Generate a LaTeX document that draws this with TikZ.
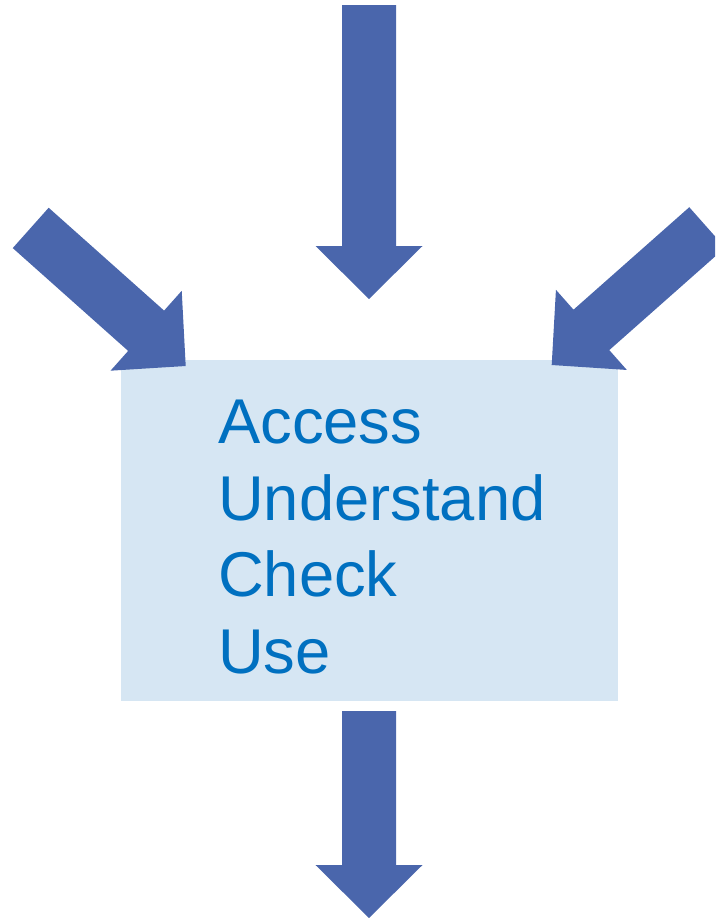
\documentclass[tikz,border=0pt]{standalone}
\usepackage{fontspec}
\setmainfont{Liberation Sans}
\definecolor{arrowblue}{HTML}{4A66AC}
\definecolor{boxblue}{HTML}{D6E6F3}
\definecolor{textblue}{HTML}{0070C0}
% Block arrow: tip coordinate, direction angle, total length
\newcommand{\blockarrow}[3]{%
  \begin{scope}[shift={#1}, rotate=#2]
    \fill[arrowblue] (0,0) -- (-53,53.5) -- (-53,27) -- (-#3,27) -- (-#3,-27)
      -- (-53,-27) -- (-53,-53.5) -- cycle;
  \end{scope}}
\begin{document}
\begin{tikzpicture}[x=1pt, y=-1pt,
  panel/.style={fill=boxblue, inner sep=0pt, minimum width=496.6pt,
    minimum height=341pt, anchor=north west},
  word/.style={text=textblue, inner sep=0pt, anchor=base west,
    font=\fontsize{63.3}{76.7}\selectfont}]
  \useasboundingbox (0,0) rectangle (715,918);
  \clip (0,0) rectangle (715,918);
  % central panel with the four steps
  \node[panel] (box) at (120.7,360) {};
  \node[word] (access) at (218,443.3) {Access};
  \node[word] (understand) at (218,520) {Understand};
  \node[word] (check) at (218,596.7) {Check};
  \node[word] (use) at (218,673.3) {Use};
  % incoming and outgoing block arrows
  \blockarrow{(369,299)}{-90}{294}
  \blockarrow{(185.7,366)}{-41.7}{207.6}
  \blockarrow{(551.7,365)}{-138.5}{207.6}
  \blockarrow{(369,918)}{-90}{207}
\end{tikzpicture}
\end{document}
